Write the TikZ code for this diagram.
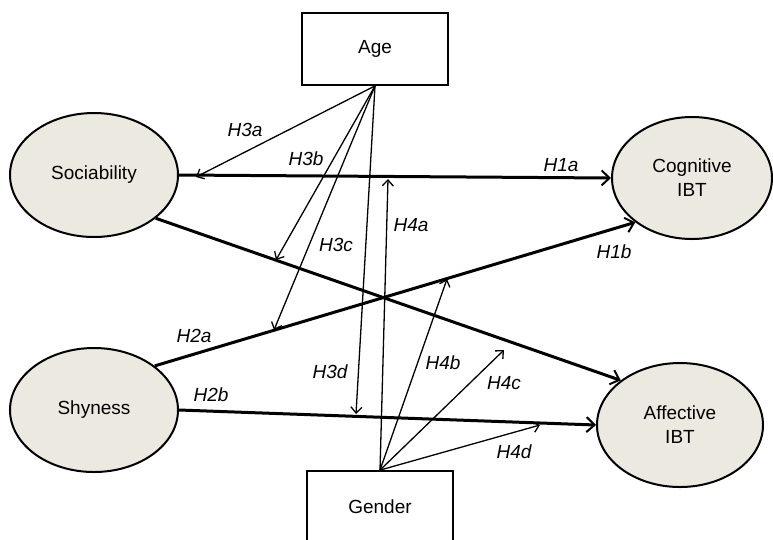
\documentclass[tikz,border=0pt]{standalone}
\usepackage{fontspec}
\setmainfont{Liberation Sans}
\usetikzlibrary{arrows.meta,shapes.geometric}
\definecolor{latfill}{RGB}{236,234,224}

\begin{document}
\begin{tikzpicture}[x=1pt, y=-1pt,
    every node/.style={font=\fontsize{19}{24}\selectfont},
    latent/.style={ellipse, draw, line width=2pt, fill=latfill, minimum width=168pt, minimum height=124pt, inner sep=0pt, align=center},
    obs/.style={rectangle, draw, line width=1.8pt, minimum width=146pt, minimum height=72pt, inner sep=0pt},
    main/.style={line width=3pt, -{Straight Barb[length=8pt,width=15pt,line width=2pt]}},
    mod/.style={line width=1.3pt, -{Straight Barb[length=6pt,width=11pt,line width=1.3pt]}},
    hyp/.style={font=\fontsize{19}{24}\selectfont\itshape}]
    \useasboundingbox (0,0) rectangle (773,539);

    % Moderators
    \node[obs] (age) at (375,49) {Age};
    \node[obs] (gen) at (380,507) {Gender};

    % Predictors and outcomes
    \node[latent] (soc) at (94,175) {Sociability};
    \node[latent] (shy) at (94,410) {Shyness};
    \node[latent, minimum width=160pt, minimum height=122pt] (cog) at (692,178) {Cognitive\\IBT};
    \node[latent, minimum width=166pt] (aff) at (680,425) {Affective\\IBT};

    % Main paths
    \draw[main] (soc.east) -- (cog.west);
    \draw[main] (soc.-35) -- (aff.143);
    \draw[main] (shy.36) -- (cog.218);
    \draw[main] (shy.east) -- (aff.west);

    % Where the moderator arrows land
    \coordinate (t3a) at (196,177);
    \coordinate (t3b) at (276,260);
    \coordinate (t3c) at (274,330);
    \coordinate (t3d) at (356,414);
    \coordinate (t4a) at (388,179);
    \coordinate (t4b) at (447,279);
    \coordinate (t4c) at (504,350);
    \coordinate (t4d) at (540,425);

    % Age
    \foreach \t in {a,b,c,d}
        \draw[mod] (age.south) -- (t3\t);
    % Gender
    \foreach \t in {a,b,c,d}
        \draw[mod] (gen.north) -- (t4\t);

    % Hypothesis labels
    \foreach \h/\x/\y in {H1a/561/165, H1b/614/252, H2a/194/336, H2b/211/395,
                          H3a/245/130, H3b/306/159, H3c/336/245, H3d/330/372,
                          H4a/411/225, H4b/443/363, H4c/504/383, H4d/514/452}
        \node[hyp] (l\h) at (\x,\y) {\h};
\end{tikzpicture}
\end{document}
